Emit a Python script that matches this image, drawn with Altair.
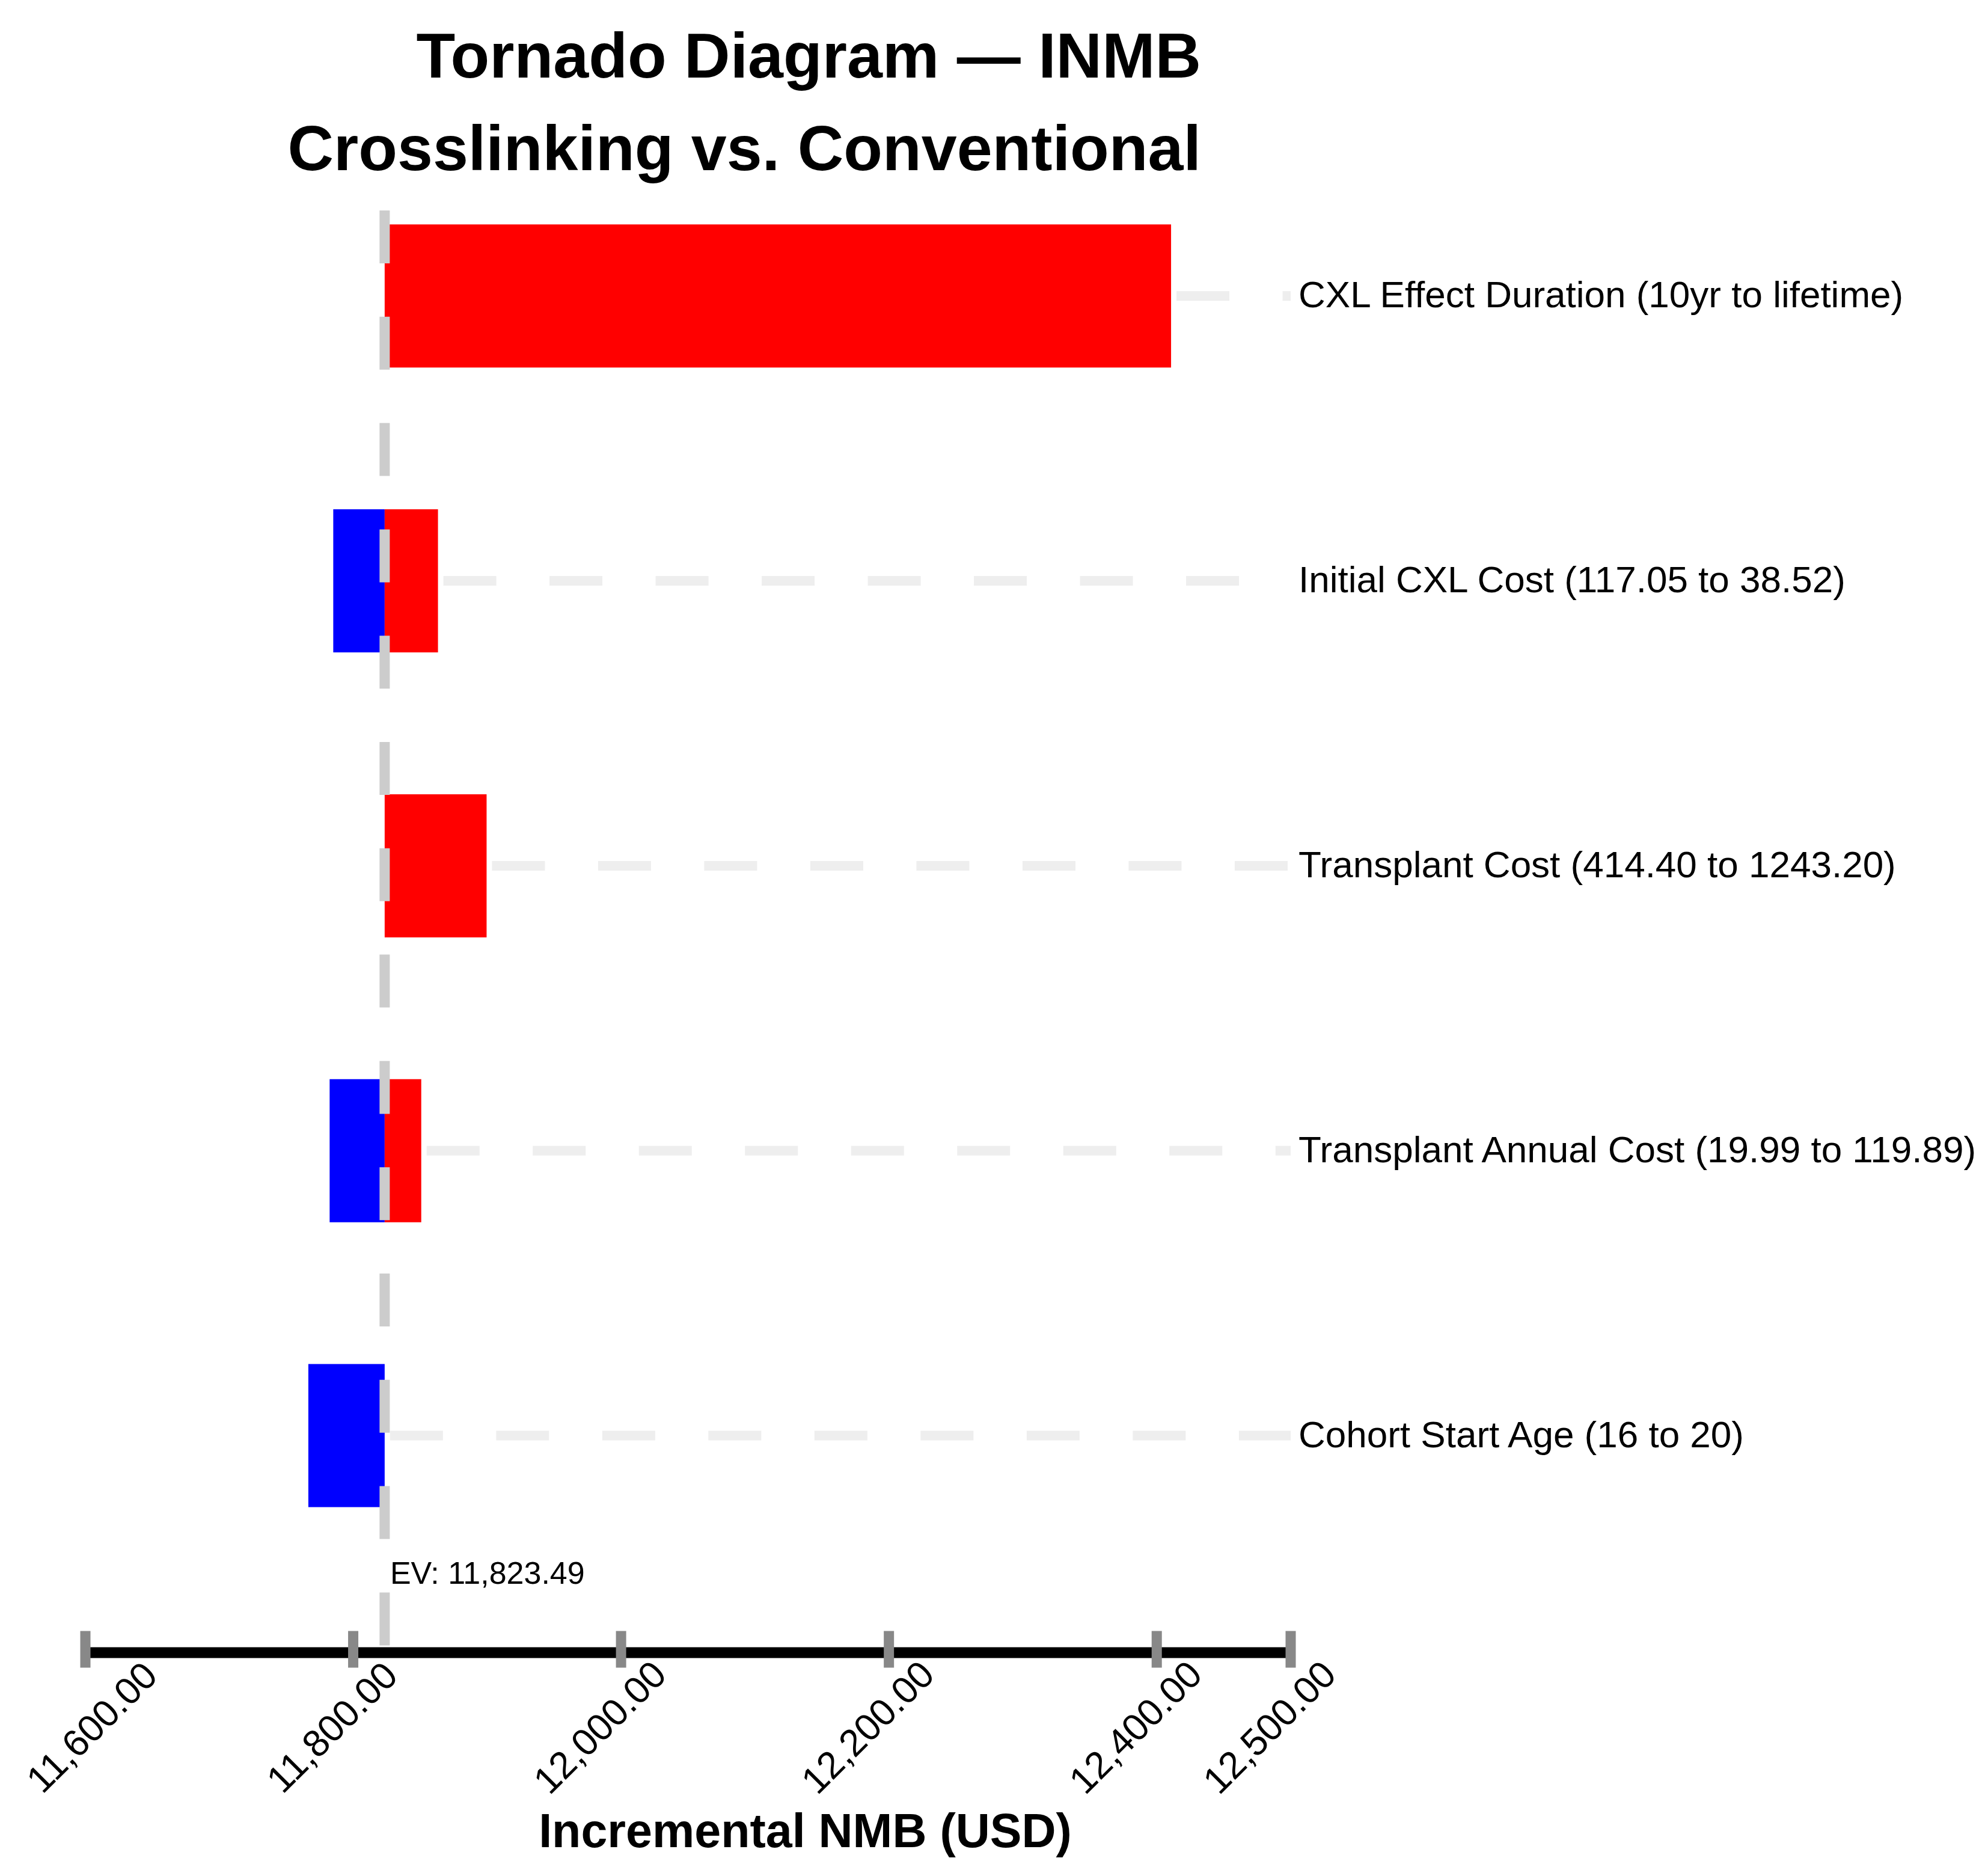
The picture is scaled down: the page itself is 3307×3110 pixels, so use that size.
import altair as alt
import pandas as pd

# ---- data ----
params = [
    "CXL Effect Duration (10yr to lifetime)",
    "Initial CXL Cost (117.05 to 38.52)",
    "Transplant Cost (414.40 to 1243.20)",
    "Transplant Annual Cost (19.99 to 119.89)",
    "Cohort Start Age (16 to 20)",
]
low_vals = [11823.49, 11785.1, 11823.49, 11782.4, 11766.5]
high_vals = [12410.7, 11863.3, 11899.6, 11850.8, 11823.49]
ev_value = 11823.49
tick_vals = [11600, 11800, 12000, 12200, 12400, 12500]
x_domain = [11600, 12500]
y_domain = [-0.3, 4.75]

FONT = "Liberation Sans"

seg_rows, grid_rows, label_rows = [], [], []
for i, (p, lo, hi) in enumerate(zip(params, low_vals, high_vals)):
    if lo < ev_value:
        seg_rows.append({"row": i, "param": p, "start": lo, "end": ev_value, "side": "low"})
    if hi > ev_value:
        seg_rows.append({"row": i, "param": p, "start": ev_value, "end": hi, "side": "high"})
    grid_rows.append({"row": i, "start": max(hi, ev_value)})
    label_rows.append({"row": i, "param": p})

seg_df = pd.DataFrame(seg_rows)
grid_df = pd.DataFrame(grid_rows)
label_df = pd.DataFrame(label_rows)
ev_df = pd.DataFrame({"ev": [ev_value]})
tick_df = pd.DataFrame({"tick": tick_vals})

x_scale = alt.Scale(domain=x_domain, nice=False, zero=False)
y_scale = alt.Scale(domain=y_domain, reverse=True, nice=False, zero=False)

x_axis = alt.Axis(
    values=tick_vals,
    format=",.2f",
    labelAngle=315,
    labelAlign="center",
    labelBaseline="middle",
    labelPadding=126,
    labelOffset={"condition": {"test": "datum.value <= 11600", "value": 12}, "value": -34},
    labelFontSize=63,
    labelFont=FONT,
    labelColor="black",
    labelLimit=2000,
    labelOverlap=False,
    labelFlush=False,
    ticks=False,
    grid=False,
    domainColor="black",
    domainWidth=18,
    title="Incremental NMB (USD)",
    titleFont=FONT,
    titleFontSize=79,
    titleFontWeight="bold",
    titleColor="black",
    titleX=1197,
    titleY=323,
    titleAlign="center",
    titleBaseline="alphabetic",
)

grid = alt.Chart(grid_df).mark_rule(
    color="#eeeeee", strokeWidth=16, strokeDash=[88, 88.5], strokeDashOffset=167.5, strokeCap="butt"
).encode(
    x=alt.X("start:Q", scale=x_scale, axis=x_axis),
    x2=alt.X2Datum(datum=x_domain[1]),
    y=alt.Y("row:Q", scale=y_scale, axis=None),
)

bars = alt.Chart(seg_df).mark_bar(size=238).encode(
    x=alt.X("start:Q", scale=x_scale, axis=x_axis),
    x2="end:Q",
    y=alt.Y("row:Q", scale=y_scale, axis=None),
    color=alt.Color("side:N", scale=alt.Scale(domain=["low", "high"], range=["#0000ff", "#ff0000"]), legend=None),
)

ev_line = alt.Chart(ev_df).mark_rule(
    color="#cccccc", strokeWidth=17, strokeDash=[88, 88.8], strokeCap="butt"
).encode(
    x=alt.X("ev:Q", scale=x_scale, axis=x_axis),
    y=alt.YDatum(datum=y_domain[0], scale=y_scale, axis=None),
    y2=alt.Y2Datum(datum=y_domain[1]),
)

ticks = alt.Chart(tick_df).mark_tick(
    orient="vertical", size=61, thickness=17, color="#888888", opacity=1
).encode(
    x=alt.X("tick:Q", scale=x_scale, axis=x_axis),
    y=alt.YDatum(datum=y_domain[1], scale=y_scale, axis=None),
)

ev_text = alt.Chart(ev_df).transform_calculate(
    label="'EV: ' + format(datum.ev, ',.2f')"
).mark_text(
    align="left", baseline="alphabetic", dx=9, fontSize=52, font=FONT, color="black"
).encode(
    x=alt.X("ev:Q", scale=x_scale, axis=x_axis),
    y=alt.YDatum(datum=4.52, scale=y_scale, axis=None),
    text="label:N",
)

labels = alt.Chart(label_df).mark_text(
    align="left", baseline="middle", dx=13, fontSize=62, font=FONT, color="black"
).encode(
    x=alt.XDatum(datum=x_domain[1], scale=x_scale, axis=x_axis),
    y=alt.Y("row:Q", scale=y_scale, axis=None),
    text="param:N",
)

chart = alt.layer(grid, bars, ev_line, ticks, ev_text, labels).properties(
    width=2005,
    height=2403,
    autosize=alt.AutoSizeParams(type="none"),
    padding={"left": 134, "top": 337, "right": 1152, "bottom": 354},
    background="white",
    title=alt.TitleParams(
        text=["Tornado Diagram \u2014 INMB", "Crosslinking vs. Conventional"],
        anchor="end",
        frame="group",
        align="right",
        baseline="bottom",
        dx=-149,
        dy=110,
        offset=41,
        fontSize=106,
        font=FONT,
        fontWeight="bold",
        color="black",
        lineHeight=154,
    ),
).configure_view(strokeWidth=0)

chart.save("out.html", embed_options={"renderer": "svg", "actions": False})
